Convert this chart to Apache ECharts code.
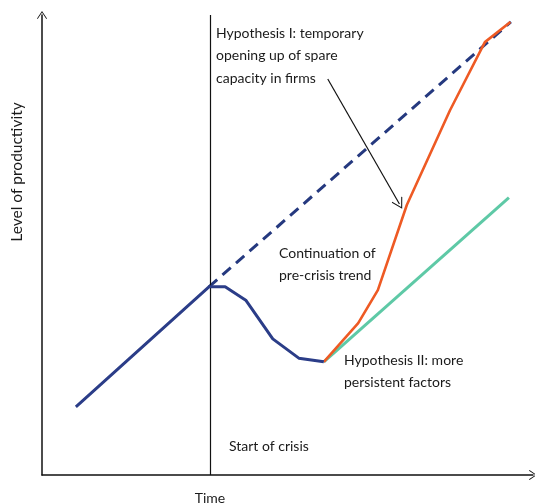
<!DOCTYPE html>
<html>
<head>
<meta charset="utf-8">
<script src="https://cdn.jsdelivr.net/npm/echarts@6/dist/echarts.min.js"></script>
<style>
  html, body { margin: 0; padding: 0; background: #fff; }
  #chart { width: 535px; height: 504px; }
</style>
</head>
<body>
<div id="chart"></div>
<script>
// schematic: time (x) vs level of productivity (y), both 0..100
const preCrisis = [[6.9, 14.8], [34.0, 40.9], [37.3, 40.9], [41.5, 38.0], [47.0, 29.6], [52.3, 25.4], [57.4, 24.6]];
const trendLine = [[34.0, 40.9], [95.5, 98.5]];
const hypothesisOne = [[57.4, 24.6], [64.4, 33.0], [68.4, 40.2], [74.3, 58.7], [83.1, 79.3], [90.2, 94.1], [95.4, 98.5]];
const hypothesisTwo = [[57.4, 24.6], [95.1, 60.3]];
const crisisStart = 34.2;
const pointer = [[58.2, 86.1], [72.8, 58.9]];

const chevron = 'path://M0,0 L6,9 L5.2,9.6 L0,1.8 L-5.2,9.6 L-6,9 Z';
const font = 'Lato, "Open Sans", sans-serif';

const chart = echarts.init(document.getElementById('chart'));

function axisCommon() {
  return {
    type: 'value', min: 0, max: 100,
    axisLabel: { show: false }, axisTick: { show: false }, splitLine: { show: false },
    axisLine: { show: true, symbol: ['none', chevron], symbolSize: [10, 9], symbolOffset: [0, 0],
      lineStyle: { color: '#111', width: 1.5 } }
  };
}

chart.setOption({
  animation: false,
  backgroundColor: '#fff',
  grid: { left: 42, right: 2, top: 15, bottom: 29 },
  xAxis: axisCommon(),
  yAxis: axisCommon(),
  series: [
    {
      type: 'line', data: trendLine, symbol: 'none',
      lineStyle: { color: '#25397f', width: 3, type: [11, 7] },
      z: 2
    },
    {
      type: 'line', data: hypothesisTwo, symbol: 'none',
      lineStyle: { color: '#5ec9a6', width: 3 },
      z: 3
    },
    {
      type: 'line', data: hypothesisOne, symbol: 'none',
      lineStyle: { color: '#ee5a24', width: 2.6 },
      z: 4
    },
    {
      type: 'line', data: preCrisis, symbol: 'none',
      lineStyle: { color: '#2b3d88', width: 3 },
      z: 5,
      markLine: {
        silent: true, symbol: 'none', label: { show: false },
        lineStyle: { color: '#111', width: 1.2, type: 'solid' },
        data: [{ xAxis: crisisStart }]
      }
    },
    {
      type: 'line', data: [], symbol: 'none',
      markLine: {
        silent: true, label: { show: false },
        lineStyle: { color: '#111', width: 1.2, type: 'solid' },
        data: [[
          { coord: pointer[0], symbol: 'none' },
          { coord: pointer[1], symbol: chevron, symbolSize: [12, 11] }
        ]]
      }
    }
  ],
  graphic: [
    { type: 'text', left: 216, top: 22, style: { text: 'Hypothesis I: temporary\nopening up of spare\ncapacity in firms', font: '14px ' + font, fill: '#1a1a1a', lineHeight: 22.5 } },
    { type: 'text', left: 279, top: 242, style: { text: 'Continuation of\npre-crisis trend', font: '14px ' + font, fill: '#1a1a1a', lineHeight: 22 } },
    { type: 'text', left: 344, top: 349, style: { text: 'Hypothesis II: more\npersistent factors', font: '14px ' + font, fill: '#1a1a1a', lineHeight: 22 } },
    { type: 'text', left: 229, top: 439, style: { text: 'Start of crisis', font: '14px ' + font, fill: '#1a1a1a' } },
    { type: 'text', x: 210, y: 498, style: { text: 'Time', font: '14px ' + font, fill: '#1a1a1a', align: 'center', verticalAlign: 'middle' } },
    { type: 'text', x: 17, y: 172, rotation: Math.PI / 2, style: { text: 'Level of productivity', font: '15.5px ' + font, fill: '#1a1a1a', align: 'center', verticalAlign: 'middle' } }
  ]
});
</script>
</body>
</html>
